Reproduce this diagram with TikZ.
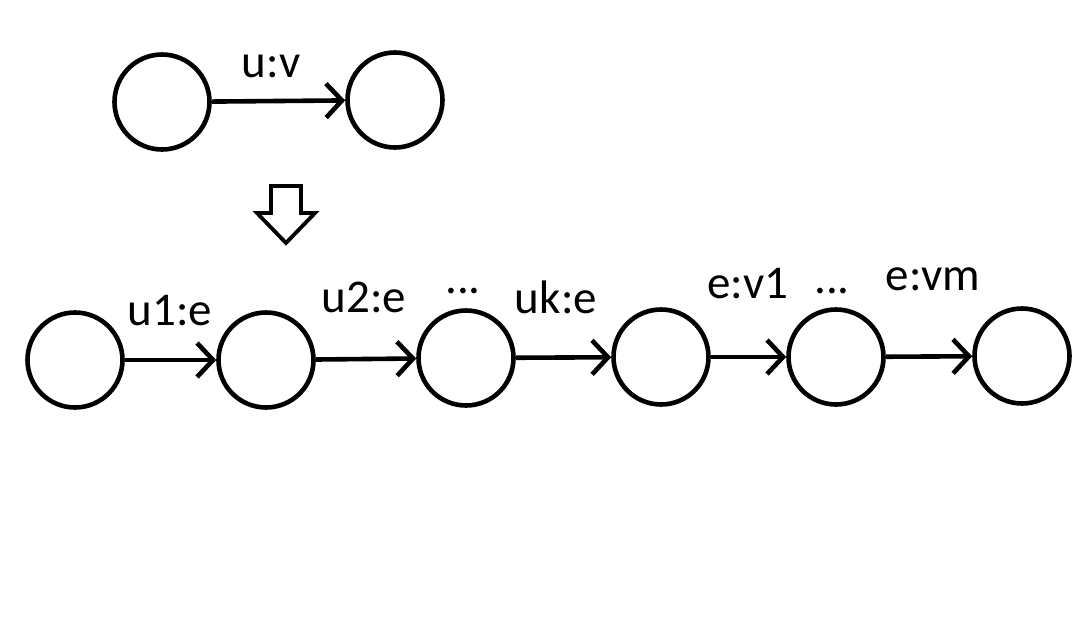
\documentclass[tikz,border=0pt]{standalone}
\usepackage{fontspec}
\setmainfont{Carlito}
\usetikzlibrary{arrows.meta}
\tikzset{
  vtx/.style={circle,draw=black,line width=4.6pt,minimum size=95pt,inner sep=0pt},
  ar/.style={-{Straight Barb[length=16pt,width=34pt]},line width=4.6pt,draw=black},
  lbl/.style={anchor=base,inner sep=0pt,font=\fontsize{47}{56}\selectfont},
  hollow/.style={draw=black,line width=3.8pt,fill=white},
}

\begin{document}
\begin{tikzpicture}[x=1pt,y=-1pt]
  \useasboundingbox (0,0) rectangle (1085,622);
  % single edge
  \node[vtx] (a) at (162,102) {};
  \node[vtx] (b) at (395,100) {};
  \draw[ar] (a) -- (b);
  \node[lbl] (luv) at (271,77) {u:v};
  % rewrite arrow
  \draw[hollow] (271,186) -- (301,186) -- (301,213) -- (315,213) -- (286,243)
    -- (257,213) -- (271,213) -- cycle;
  % expanded chain
  \node[vtx] (s0) at (75,360) {};
  \node[vtx] (s1) at (266,360) {};
  \node[vtx] (s2) at (466,358) {};
  \node[vtx] (s3) at (661,357) {};
  \node[vtx] (s4) at (836,357) {};
  \node[vtx] (s5) at (1022,356) {};
  \draw[ar] (s0) -- (s1); \draw[ar] (s1) -- (s2); \draw[ar] (s2) -- (s3);
  \draw[ar] (s3) -- (s4); \draw[ar] (s4) -- (s5);
  \node[lbl] (l1) at (170,325) {u1:e};
  \node[lbl] (l2) at (364,312) {u2:e};
  \node[lbl] (d1) at (463,293) {...};
  \node[lbl] (lk) at (556,313) {uk:e};
  \node[lbl] (m1) at (748,298) {e:v1};
  \node[lbl] (d2) at (832,293) {...};
  \node[lbl] (lm) at (933,290) {e:vm};
\end{tikzpicture}
\end{document}
